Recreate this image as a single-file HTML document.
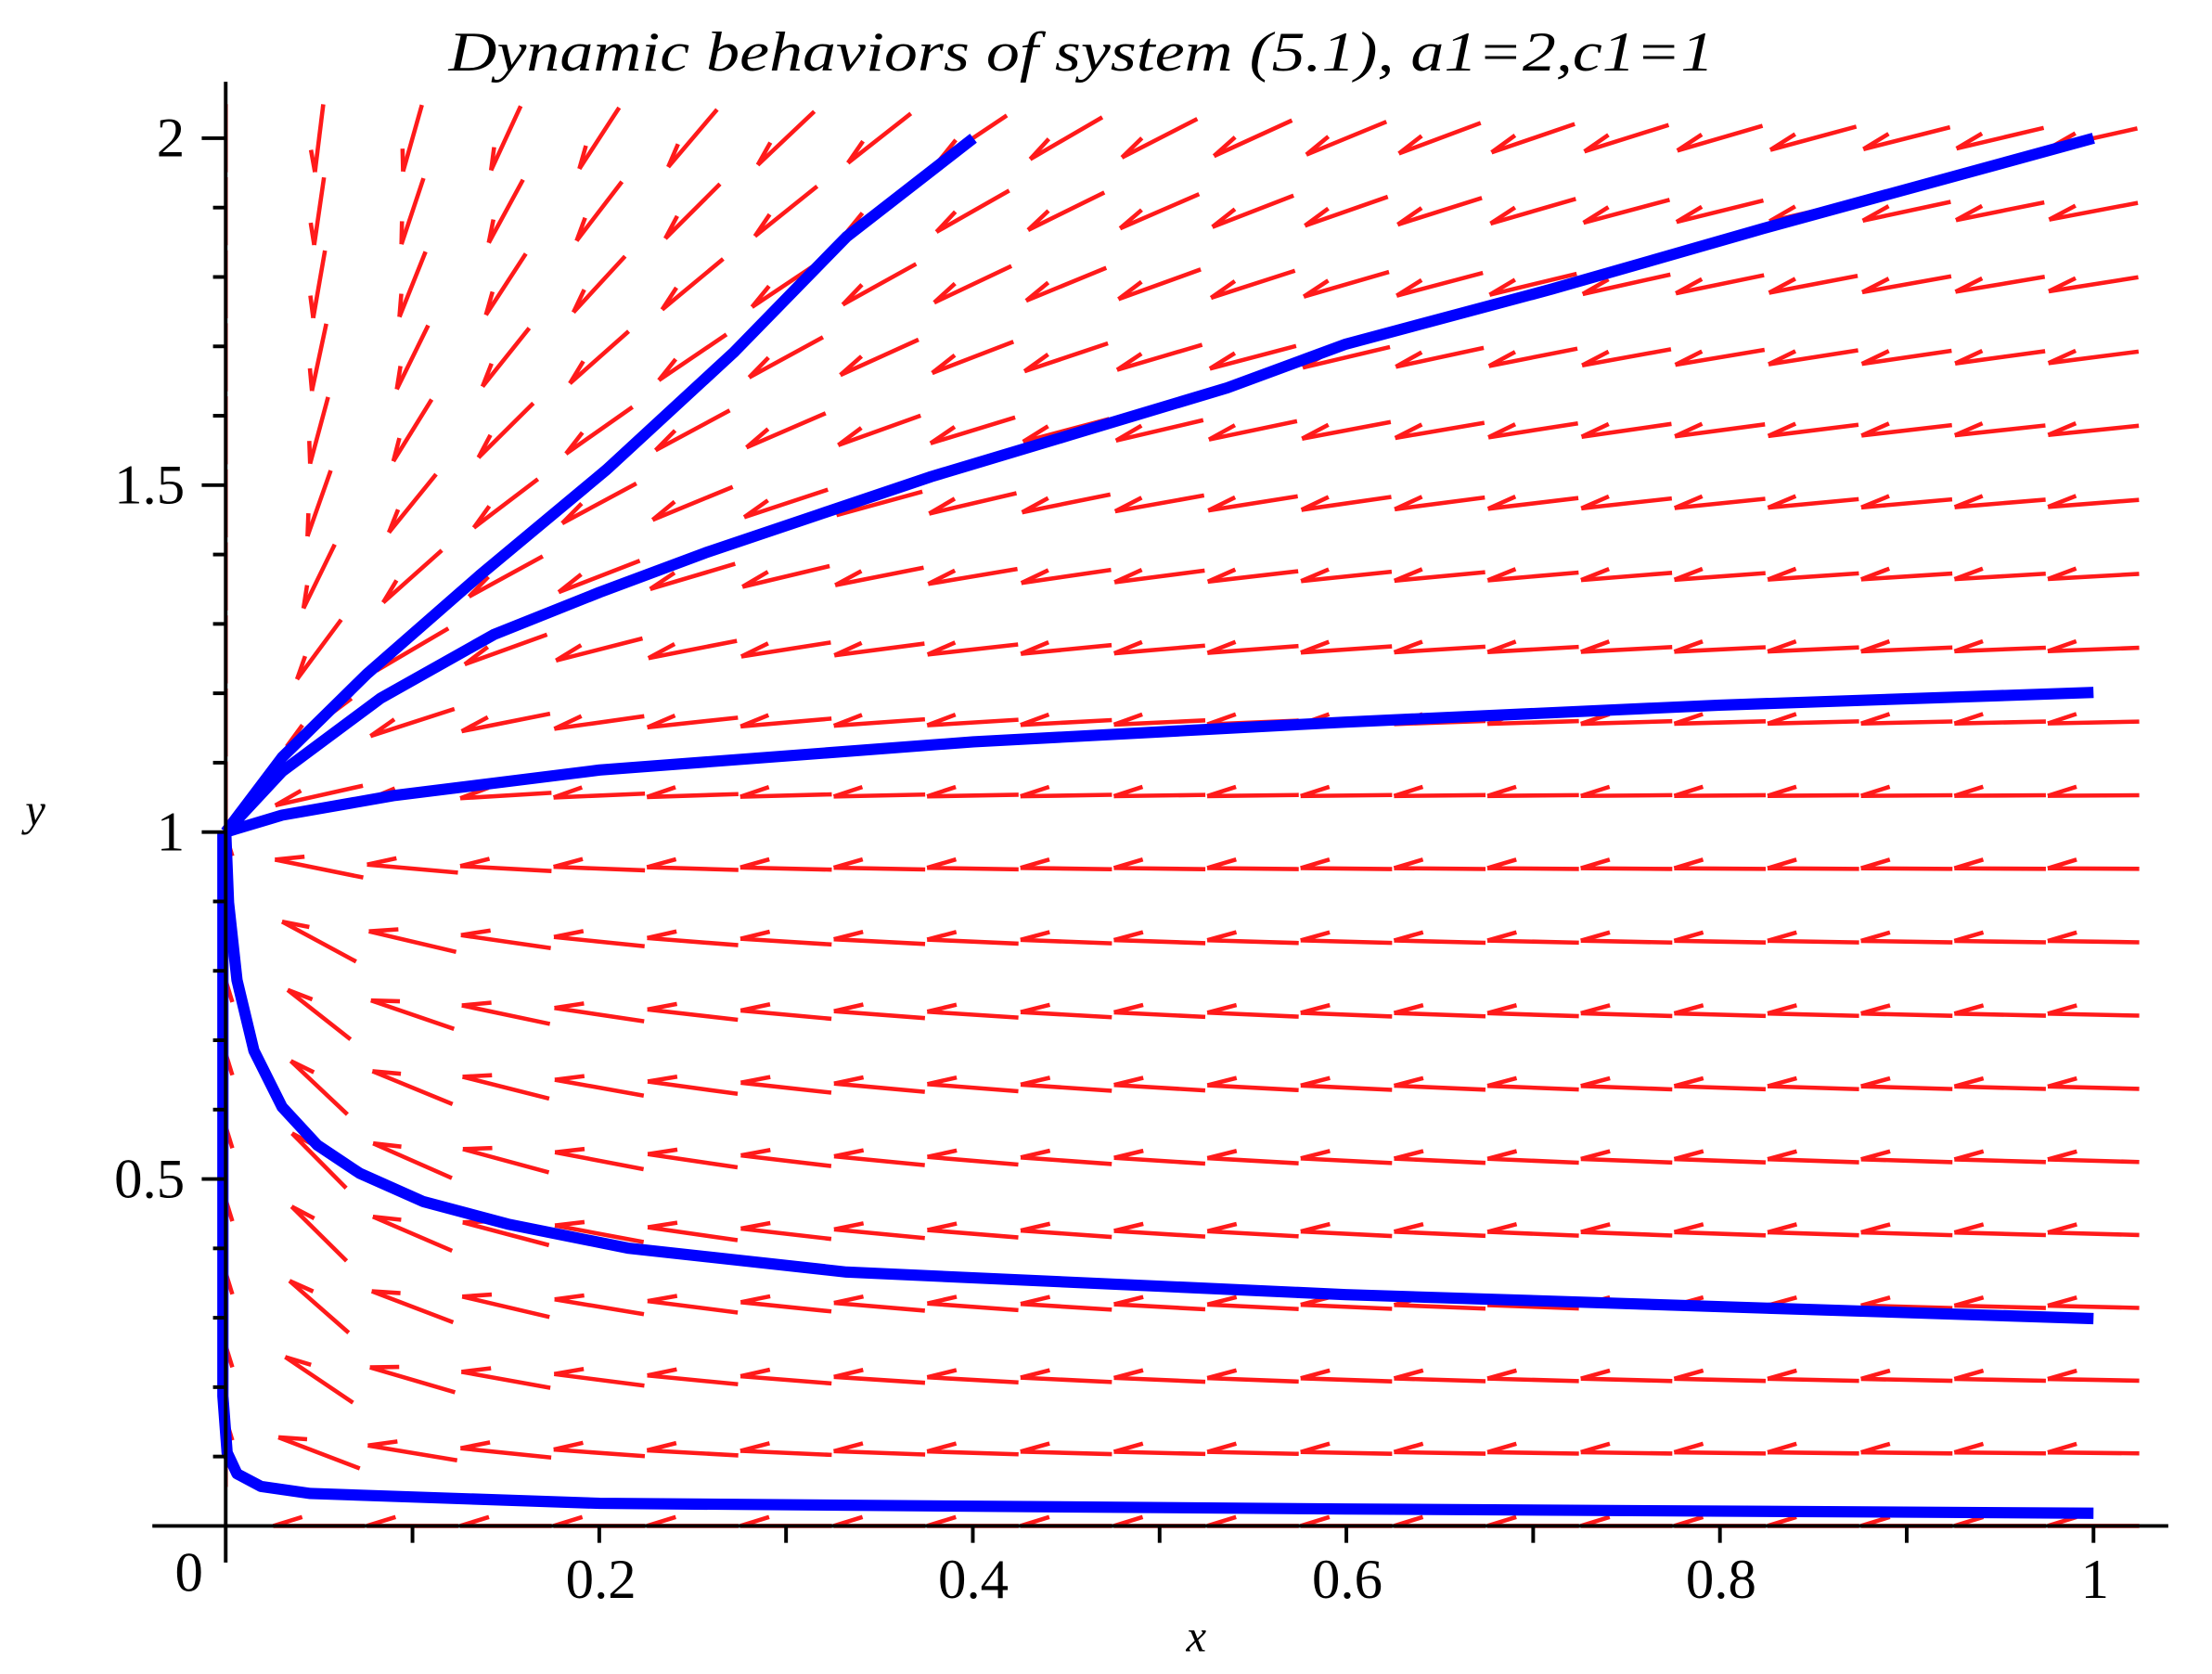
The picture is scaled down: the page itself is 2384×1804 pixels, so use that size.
<!DOCTYPE html>
<html><head><meta charset="utf-8"><style>
html,body{margin:0;padding:0;background:#fff;}
svg{display:block;}
</style></head><body>
<svg id="s" width="2384" height="1804" viewBox="0 0 1568 1187" preserveAspectRatio="none" xmlns="http://www.w3.org/2000/svg">
<defs><clipPath id="cp"><rect x="160" y="0" width="1408" height="1187"/></clipPath></defs>
<rect width="1568" height="1187" fill="#fff"/>
<g id="field" stroke="#ff1a1a" stroke-width="3" fill="none" stroke-linecap="butt" clip-path="url(#cp)"></g>
<g id="curves" stroke="#0000ff" stroke-width="8" fill="none" stroke-linejoin="round" stroke-linecap="butt">
<polyline points="160,590 200,537 260,478 340,408 430,333 520,250 600,168 690,98"/>
<polyline points="160,590 200,547 270,495 350,450 425,420 500,392 580,365 660,338 760,308 870,275 954,244 1100,205 1250,162 1484,98"/>
<polyline points="160,590 200,578 280,564 425,546 690,526 954,512 1219,500 1484,491"/>
<polyline points="160,590 162,640 168,695 180,745 200,785 225,812 255,832 300,852 360,868 445,885 600,902 954,918 1484,935"/>
<polyline points="158,590 158,900 158,990 161,1030 168,1045 185,1054 220,1059 425,1066 954,1070 1484,1073"/>
</g>
<g stroke="#000" stroke-width="2.6" fill="none" id="axes">
<line x1="108" y1="1082" x2="1537" y2="1082"/>
<line x1="160" y1="58" x2="160" y2="1108"/>
</g>
<g font-family="'Liberation Serif',serif" font-size="40" fill="#000">
<text x="426" y="1133" text-anchor="middle">0.2</text>
<text x="690" y="1133" text-anchor="middle">0.4</text>
<text x="955" y="1133" text-anchor="middle">0.6</text>
<text x="1220" y="1133" text-anchor="middle">0.8</text>
<text x="1485" y="1133" text-anchor="middle">1</text>
<text x="134" y="1128" text-anchor="middle">0</text>
<text x="131" y="111" text-anchor="end">2</text>
<text x="131" y="357" text-anchor="end">1.5</text>
<text x="131" y="603" text-anchor="end">1</text>
<text x="131" y="849" text-anchor="end">0.5</text>
<text x="848" y="1171" text-anchor="middle" font-style="italic" font-size="32">x</text>
<text x="25" y="585" text-anchor="middle" font-style="italic" font-size="32">y</text>
<text x="318" y="50" font-style="italic" font-size="40" textLength="897" lengthAdjust="spacingAndGlyphs">Dynamic behaviors of system (5.1), a1=2,c1=1</text>
</g>
</svg>
<script>
(function(){
var NS="http://www.w3.org/2000/svg";
var f=document.getElementById('field'),ax=document.getElementById('axes');
function X(x){return 160+1324*x;} function Y(y){return 1082-492*y;}
function ln(g,a,b,c,d){var l=document.createElementNS(NS,'line');l.setAttribute('x1',a);l.setAttribute('y1',b);l.setAttribute('x2',c);l.setAttribute('y2',d);g.appendChild(l);}
var L=0.049;
for(var j=0;j<=20;j++){for(var k=0;k<=19;k++){
var x=j*0.05,y=k*2/19;
var xp=-Math.pow(x,1.2), yp=0.3*y*(1-y);
var u=xp, v=yp/2, n=Math.sqrt(u*u+v*v);
if(n<1e-9){continue;}
u/=n; v/=n;
var dx=L*u*1324, dy=-L*v*984;
var cx=X(x),cy=Y(y);
var x1=cx-dx/2,y1=cy-dy/2,x2=cx+dx/2,y2=cy+dy/2;
ln(f,x1,y1,x2,y2);
var len=Math.sqrt(dx*dx+dy*dy), ang=Math.atan2(dy,dx), h=len*0.33, a=0.3;
ln(f,x2,y2,x2-h*Math.cos(ang-a),y2-h*Math.sin(ang-a));
}}
for(var i=1;i<=10;i++){var tx=X(i/10);ln(ax,tx,1082,tx,1094);}
for(var i=1;i<=20;i++){var ty=Y(i/10);ln(ax,160,ty,i%5==0?143:151,ty);}
})();
</script>
</body></html>
